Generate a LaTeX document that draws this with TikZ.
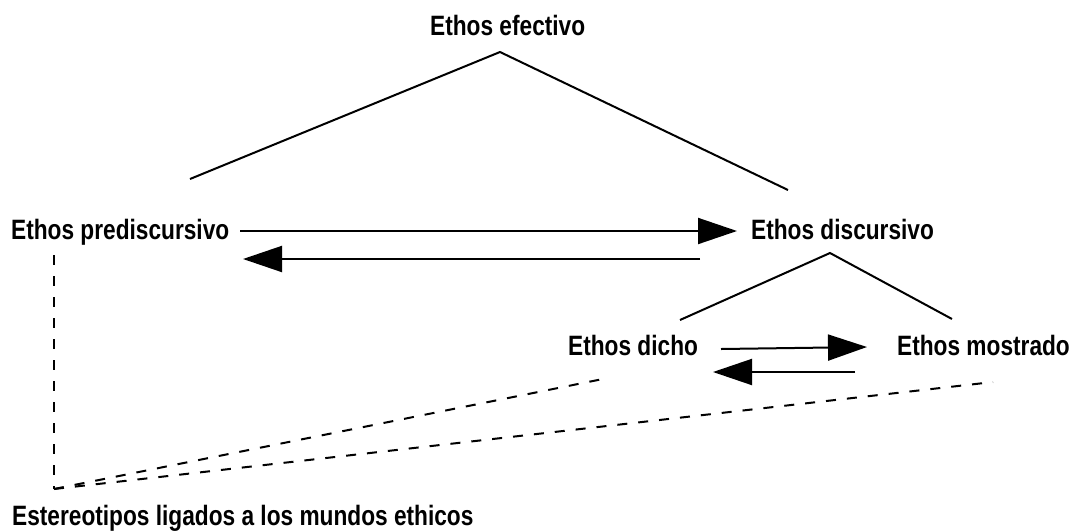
\documentclass[tikz,border=0pt]{standalone}
\usepackage{fontspec}
\setmainfont{Liberation Sans}[FakeStretch=0.81]
\usetikzlibrary{arrows.meta}
\begin{document}
\begin{tikzpicture}[x={(1pt,0)},y={(0,-1pt)},
  lbl/.style={inner sep=0pt,anchor=base west,font=\fontsize{28}{30}\selectfont\bfseries},
  solidline/.style={line width=2pt,line cap=butt,line join=miter},
  dashline/.style={line width=2pt,dash pattern=on 10pt off 11pt},
  arr/.style={line width=2pt,-{Triangle[length=39pt,width=26pt]}}]
\useasboundingbox (0,0) rectangle (1077,531);
\node[lbl] (efe) at (430,35) {Ethos efectivo};
\node[lbl] (pre) at (11,239) {Ethos prediscursivo};
\node[lbl] (dis) at (751,239) {Ethos discursivo};
\node[lbl] (dic) at (568,355) {Ethos dicho};
\node[lbl] (mos) at (897,355) {Ethos mostrado};
\node[lbl] (est) at (12,525) {Estereotipos ligados a los mundos ethicos};
% coordinates
\coordinate (efA) at (500,52);
\coordinate (preT) at (190,179);
\coordinate (disT) at (788,190);
\coordinate (disA) at (830,253);
\coordinate (dicT) at (680,320);
\coordinate (mosT) at (952,319);
\coordinate (preR1) at (240,231);
\coordinate (disL1) at (737,231);
\coordinate (disL2) at (700,259);
\coordinate (preR2) at (243,259);
\coordinate (dicR1) at (721,349);
\coordinate (mosL1) at (867,347);
\coordinate (mosL2) at (855,372);
\coordinate (dicR2) at (713,372);
\coordinate (preB) at (54,255);
\coordinate (estT) at (54,489);
\coordinate (dicB) at (603,379);
\coordinate (mosB) at (993,382);
% tree lines
\draw[solidline] (preT) -- (efA) -- (disT);
\draw[solidline] (dicT) -- (disA) -- (mosT);
% arrows
\draw[arr] (preR1) -- (disL1);
\draw[arr] (disL2) -- (preR2);
\draw[arr] (dicR1) -- (mosL1);
\draw[arr] (mosL2) -- (dicR2);
% dashed
\draw[dashline] (preB) -- (estT);
\draw[dashline] (estT) -- (dicB);
\draw[dashline] (estT) -- (mosB);
\end{tikzpicture}
\end{document}
